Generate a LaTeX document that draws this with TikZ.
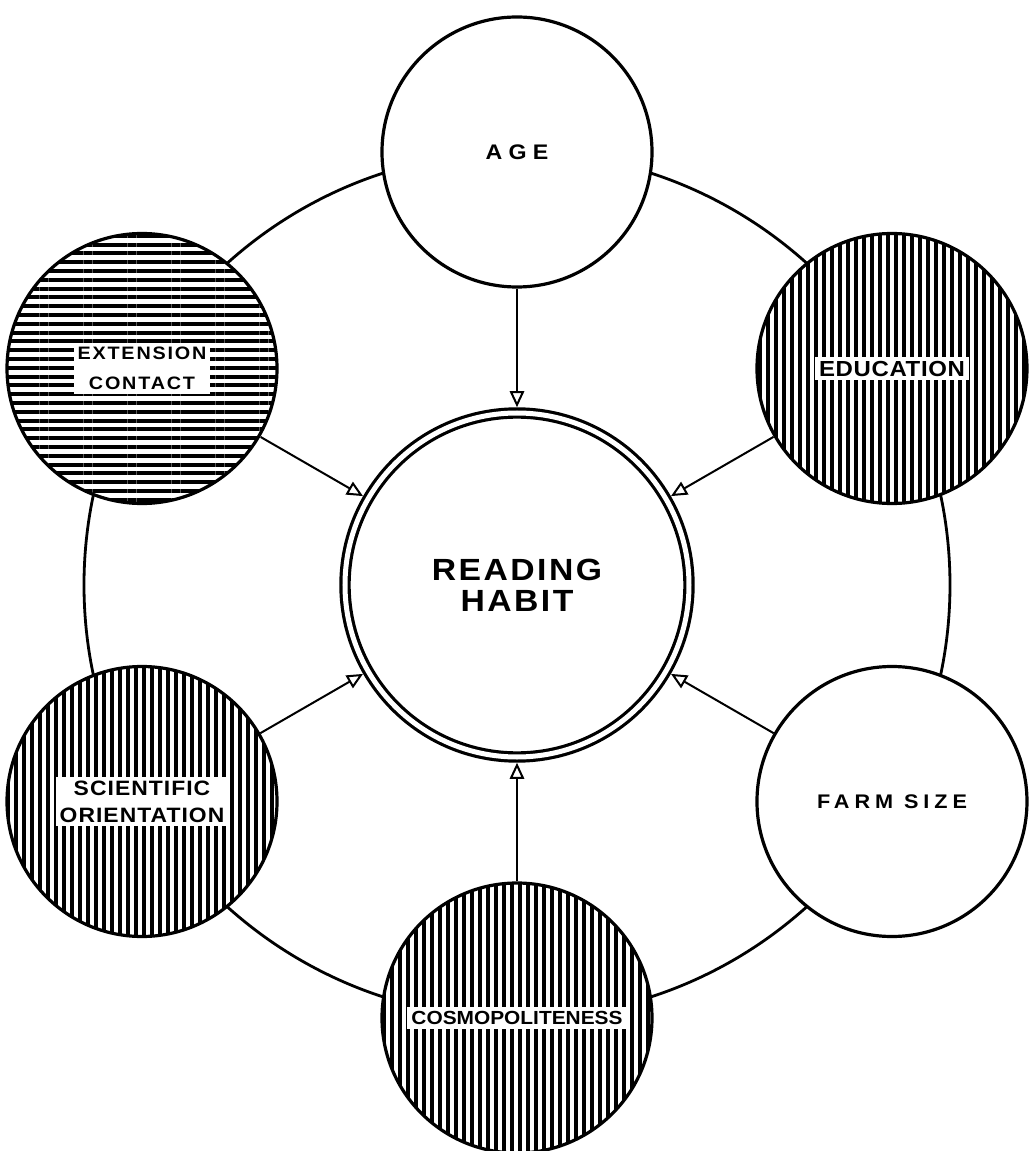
\documentclass[tikz,border=0pt]{standalone}
\usepackage{fontspec}
\newfontfamily\lblfont{Liberation Sans}[FakeStretch=1.1]
\newcommand{\lsp}[3]{\fontsize{#1}{#2}\selectfont\addfontfeature{LetterSpace=#3}}
\usepackage{tikz}
\usetikzlibrary{arrows.meta,patterns.meta}

\begin{document}
\begin{tikzpicture}[>={Triangle[open,length=4mm,width=3.6mm]}]
\tikzset{
 f/.style={circle,draw,line width=0.8mm,minimum size=6.75cm,inner sep=0pt,fill=white},
 hz/.style={preaction={fill=white},pattern={Lines[angle=0,distance=2.2mm,line width=1mm]}},
 vt/.style={preaction={fill=white},pattern={Lines[angle=90,distance=2mm,line width=0.9mm]}},
 lb/.style={fill=white,inner sep=1mm,align=center,font=\lblfont\bfseries},
 a/.style={->,line width=0.5mm}
}
\useasboundingbox (-12.925,-14.15) rectangle (12.95,14.625);
% ring behind the factors
\draw[line width=0.7mm] (0,0) circle (10.825);
\node[circle,draw,double,double distance=1.25mm,line width=0.8mm,minimum size=8.6cm,outer sep=1.45mm,align=center,font=\lblfont\bfseries\lsp{21.8}{22}{8}] (rh) at (0,0) {READING\\HABIT};
% factors
\node[f] (age) at (90:10.825) {};
\node[f,vt] (edu) at (30:10.825) {};
\node[f] (farm) at (-30:10.825) {};
\node[f,vt] (cos) at (-90:10.825) {};
\node[f,vt] (sci) at (210:10.825) {};
\node[f,hz] (ext) at (150:10.825) {};
% labels
\node[lb,font=\lblfont\bfseries\lsp{15}{18}{30}] (age-l) at (age) {AGE};
\node[lb,font=\lblfont\bfseries\lsp{15.5}{18}{3}] (edu-l) at (edu) {EDUCATION};
\node[lb,font=\lblfont\bfseries\lsp{14}{16}{25}] (farm-l) at (farm) {FARM SIZE};
\node[lb,font=\lblfont\bfseries\lsp{13.5}{16}{0}] (cos-l) at (cos) {COSMOPOLITENESS};
\node[lb,font=\lblfont\bfseries\lsp{14.8}{19}{5}] (sci-l) at (sci) {SCIENTIFIC\\ORIENTATION};
\node[lb,font=\lblfont\bfseries\lsp{12.8}{21}{10}] (ext-l) at (ext) {EXTENSION\\CONTACT};
\foreach \n in {age,edu,farm,cos,sci,ext}{\draw[a] (\n) -- (rh);}
\end{tikzpicture}
\end{document}
